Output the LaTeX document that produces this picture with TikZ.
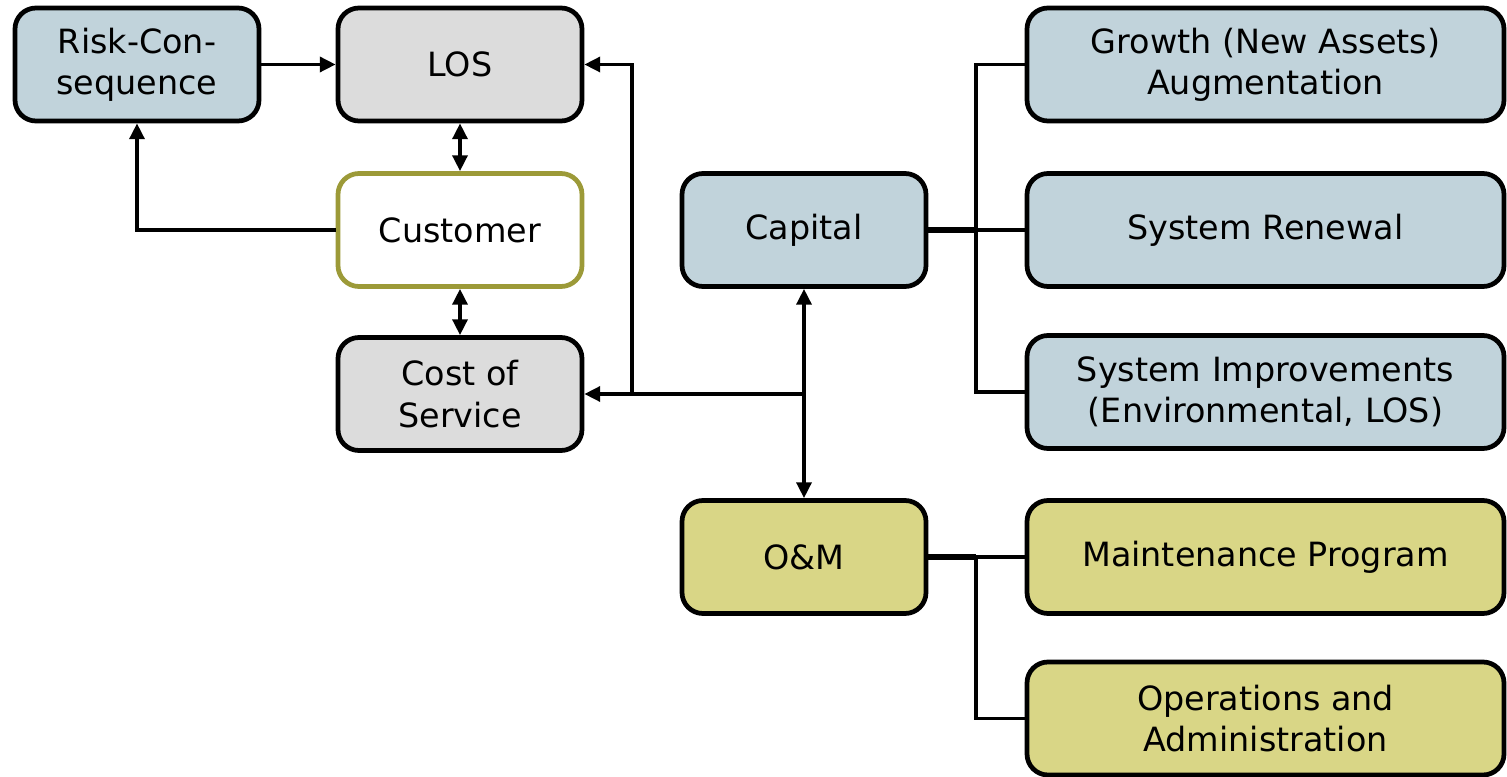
\documentclass[tikz,border=0pt]{standalone}
\usepackage{fontspec}
\setmainfont{DejaVu Sans}
\usetikzlibrary{arrows.meta}
\definecolor{bluefill}{HTML}{C1D3DB}
\definecolor{greyfill}{HTML}{DCDCDC}
\definecolor{olivefill}{HTML}{D9D686}
\definecolor{oliveline}{HTML}{9C9A38}
\tikzset{
  box/.style={draw=black, line width=2.7pt, rounded corners=0.42cm,
    minimum height=2.26cm, align=center, inner sep=2pt,
    font=\fontsize{19}{23.5}\selectfont},
  smallbox/.style={box, minimum width=4.88cm},
  widebox/.style={box, minimum width=9.54cm},
  conn/.style={line width=2pt},
  trunk/.style={line width=2.9pt},
  tip/.tip={Triangle[length=9pt,width=8.5pt]},
  arr/.style={conn, -tip},
  darr/.style={conn, tip-tip}
}
\begin{document}
\begin{tikzpicture}
\useasboundingbox (0,0) rectangle (30.14,-15.54);

% left column
\node[smallbox, fill=bluefill] (risk) at (2.74,-1.29) {Risk-Con-\\sequence};
\node[smallbox, fill=greyfill] (los) at (9.2,-1.29) {LOS};
\node[smallbox, fill=white, draw=oliveline] (cust) at (9.2,-4.6) {Customer};
\node[smallbox, fill=greyfill] (cost) at (9.2,-7.88) {Cost of\\Service};

% middle column
\node[smallbox, fill=bluefill] (cap) at (16.08,-4.6) {Capital};
\node[smallbox, fill=olivefill] (om) at (16.08,-11.14) {O\&M};

% right column
\node[widebox, fill=bluefill] (growth) at (25.31,-1.29) {Growth (New Assets)\\Augmentation};
\node[widebox, fill=bluefill] (renew) at (25.31,-4.6) {System Renewal};
\node[widebox, fill=bluefill] (improv) at (25.31,-7.84) {System Improvements\\(Environmental, LOS)};
\node[widebox, fill=olivefill] (maint) at (25.31,-11.14) {Maintenance Program};
\node[widebox, fill=olivefill] (ops) at (25.31,-14.37) {Operations and\\Administration};

% junction points
\coordinate (split) at (cap.south |- cost.east);
\coordinate (riser) at (12.64,0 |- cost.east);
\coordinate (capbus) at (19.52,0 |- cap.east);
\coordinate (ombus) at (19.52,0 |- om.east);

% feedback loop on the left
\draw[arr] (risk) -- (los);
\draw[arr] (cust.west) -| (risk.south);
\draw[darr] (los.south) -- (cust.north);
\draw[darr] (cust.south) -- (cost.north);

% capital / O&M links
\draw[darr] (cap.south) -- (om.north);
\draw[arr] (split) -- (cost.east);
\draw[arr] (riser) |- (los.east);

% capital branches
\draw[trunk] (cap.east) -- (capbus);
\draw[conn] (growth.west) -| (capbus) |- (improv.west);
\draw[conn] (capbus |- improv.west) -- (capbus |- growth.west);
\draw[conn] (capbus) -- (renew.west);

% O&M branches
\draw[trunk] (om.east) -- (ombus);
\draw[conn] (maint.west) -- (ombus) |- (ops.west);
\end{tikzpicture}
\end{document}
